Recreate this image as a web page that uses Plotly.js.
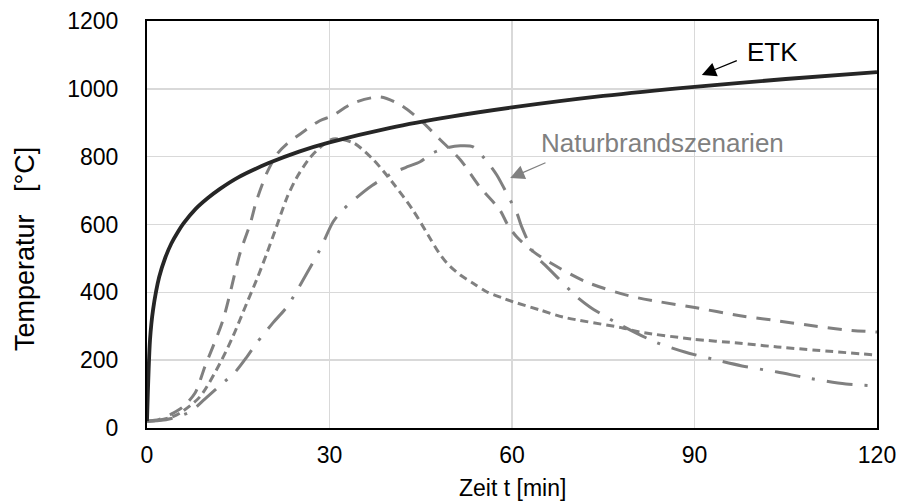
<!DOCTYPE html>
<html>
<head>
<meta charset="utf-8">
<script src="https://cdn.plot.ly/plotly-3.0.1.min.js"></script>
<style>html,body{margin:0;padding:0;background:#fff}#chart{width:900px;height:501px}</style>
</head>
<body>
<div id="chart"></div>
<script>
// Einheits-Temperaturzeitkurve (ETK)
const etkTime = [0, 0.5, 1, 2, 3, 4, 5, 6, 8, 10, 12, 15, 20, 25, 30, 40, 50, 60, 75, 90, 105, 120];
const etkTemp = [20, 261, 349, 445, 502, 544, 576, 603, 646, 678, 705, 739, 781, 815, 842, 885, 918, 945, 979, 1006, 1029, 1049];

// Naturbrand scenario A (long dash)
const scenATime = [0, 2, 4.3, 5.9, 7.9, 9.5, 12.5, 15.3, 17, 18, 19.7, 21.4, 23, 25.2, 28.4, 30.4, 33.9, 38.3, 41.6, 44.9, 48.2, 51.5, 54.7, 58, 59.3, 60.8, 63.5, 66.3, 72.3, 79.4, 84.3, 89.8, 97.5, 102.9, 110, 115, 120];
const scenATemp = [20, 25, 44, 62, 103, 180, 319, 516, 604, 670, 752, 808, 838, 867, 906, 920, 958, 976, 953, 908, 850, 791, 711, 643, 599, 563, 520, 487, 430, 389, 372, 356, 331, 318, 300, 289, 283];

// Naturbrand scenario B (short dash)
const scenBTime = [0, 2, 4, 5.4, 8.7, 12, 14.1, 16.4, 18, 19.7, 21.3, 23, 24.6, 26.8, 28.7, 30.6, 33.9, 37.2, 40.4, 43.7, 46.2, 47.9, 49.3, 51.5, 53.6, 55.9, 58.5, 60.2, 64.6, 68.4, 78.2, 81, 89.8, 97.5, 103.6, 120];
const scenBTemp = [20, 23, 32, 44, 92, 191, 269, 368, 436, 515, 594, 679, 738, 797, 831, 852, 841, 791, 723, 643, 569, 519, 486, 451, 427, 401, 383, 372, 348, 327, 295, 283, 262, 250, 239, 215];

// Naturbrand scenario C (dash-dot)
const scenCTime = [0, 2, 4, 7, 9.5, 12, 14.5, 16.4, 18, 20.7, 23, 26.3, 28.4, 30.6, 32.2, 34.5, 37, 40.4, 42.5, 44.9, 47, 49.3, 51.5, 53.6, 55.9, 57.5, 59.7, 60.8, 61.6, 63.8, 65.4, 67.4, 70.7, 72.8, 76.9, 83.5, 88.4, 93, 97.8, 103.6, 109, 114.9, 120];
const scenCTemp = [20, 22, 28, 47, 85, 125, 165, 209, 250, 310, 357, 457, 525, 608, 643, 680, 715, 752, 768, 785, 811, 826, 832, 829, 785, 746, 672, 634, 593, 510, 481, 445, 386, 357, 313, 254, 224, 203, 183, 165, 146, 130, 124];

const xTicks = [0, 30, 60, 90, 120];
const yTicks = [0, 200, 400, 600, 800, 1000, 1200];

const FONT = '"Liberation Sans", Arial, sans-serif';
const GRAY = '#808080';

const traces = [
  {x: scenATime, y: scenATemp, mode: 'lines', line: {color: GRAY, width: 3, dash: '14px,10px', shape: 'spline', smoothing: 0.8}, hoverinfo: 'skip'},
  {x: scenBTime, y: scenBTemp, mode: 'lines', line: {color: GRAY, width: 3, dash: '8px,5px', shape: 'spline', smoothing: 0.8}, hoverinfo: 'skip'},
  {x: scenCTime, y: scenCTemp, mode: 'lines', line: {color: GRAY, width: 3, dash: '26px,12px,3px,12px', shape: 'spline', smoothing: 0.8}, hoverinfo: 'skip'},
  {x: etkTime, y: etkTemp, mode: 'lines', line: {color: '#262626', width: 3.8, shape: 'spline', smoothing: 0.8}, hoverinfo: 'skip'}
];

const layout = {
  width: 900, height: 501,
  margin: {l: 147, r: 23, t: 21, b: 73},
  paper_bgcolor: '#fff', plot_bgcolor: '#fff',
  showlegend: false,
  font: {family: FONT, size: 23, color: '#000'},
  xaxis: {
    range: [0, 120], tickvals: xTicks, ticktext: xTicks.map(String),
    showgrid: true, gridcolor: '#d9d9d9', gridwidth: 1.5, zeroline: false,
    showline: true, linecolor: '#000', linewidth: 2, mirror: true,
    ticks: '', ticklabelstandoff: 5,
    tickfont: {family: FONT, size: 23, color: '#000'}
  },
  yaxis: {
    range: [0, 1200], tickvals: yTicks, ticktext: yTicks.map(String),
    showgrid: true, gridcolor: '#d9d9d9', gridwidth: 1.5, zeroline: false,
    showline: true, linecolor: '#000', linewidth: 2, mirror: true,
    ticks: '', ticklabelstandoff: 22,
    tickfont: {family: FONT, size: 23, color: '#000'}
  },
  annotations: [
    {xref: 'paper', yref: 'paper', x: -0.167, y: 0.44, text: 'Temperatur\u00a0\u00a0 [°C]', textangle: -90, showarrow: false, xanchor: 'center', yanchor: 'middle', font: {family: FONT, size: 27, color: '#000'}},
    {xref: 'paper', yref: 'paper', x: 0.5, y: -0.147, text: 'Zeit t [min]', showarrow: false, xanchor: 'center', yanchor: 'middle', font: {family: FONT, size: 23, color: '#000'}},
    {xref: 'x', yref: 'y', x: 102.9, y: 1108, text: 'ETK', showarrow: false, xanchor: 'center', yanchor: 'middle', font: {family: FONT, size: 26, color: '#000'}},
    {xref: 'x', yref: 'y', x: 91.2, y: 1041, ax: 97.2, ay: 1085, axref: 'x', ayref: 'y', text: '', showarrow: true, arrowhead: 2, arrowsize: 2.2, arrowwidth: 1.3, arrowcolor: '#000'},
    {xref: 'x', yref: 'y', x: 84.8, y: 840, text: 'Naturbrandszenarien', showarrow: false, xanchor: 'center', yanchor: 'middle', font: {family: FONT, size: 26, color: GRAY}},
    {xref: 'x', yref: 'y', x: 59.7, y: 737, ax: 65.75, ay: 784, axref: 'x', ayref: 'y', text: '', showarrow: true, arrowhead: 2, arrowsize: 2.2, arrowwidth: 1.3, arrowcolor: GRAY}
  ]
};

Plotly.newPlot('chart', traces, layout, {staticPlot: true, displayModeBar: false});
</script>
</body>
</html>
